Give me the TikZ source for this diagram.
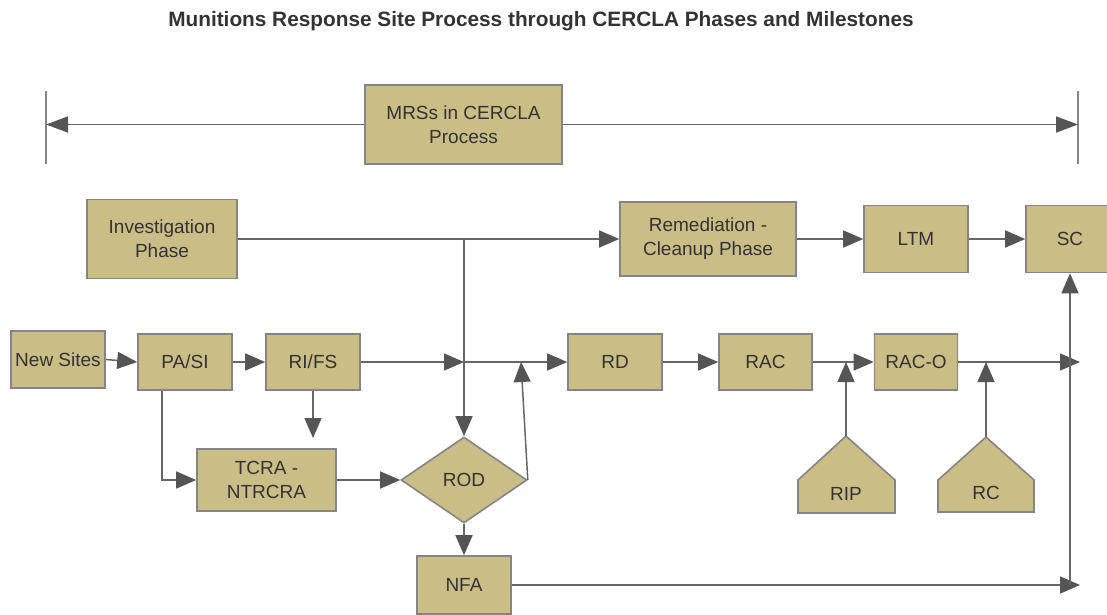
\documentclass[tikz,border=0pt]{standalone}
\usepackage{fontspec}
\setmainfont{Liberation Sans}
\usetikzlibrary{arrows.meta,shapes.geometric}

\definecolor{boxfill}{HTML}{CBBD86}
\definecolor{boxline}{HTML}{858585}
\definecolor{wire}{HTML}{666666}
\definecolor{tipcol}{HTML}{555555}
\definecolor{txt}{HTML}{333333}

\tikzset{
  stage/.style={draw=boxline, fill=boxfill, line width=1.6pt, inner sep=0pt,
    text=txt, align=center, font=\fontsize{19}{24}\selectfont},
  decision/.style={stage, diamond, minimum width=126pt, minimum height=86pt},
  house/.style={draw=boxline, fill=boxfill, line width=1.6pt, line join=miter},
  wireline/.style={draw=wire, line width=1.5pt},
  arr/.style={wireline, -{Triangle[length=20pt,width=17pt,fill=tipcol,color=tipcol]}},
  bararr/.style={wireline, -{Triangle[length=22pt,width=16pt,fill=tipcol,color=tipcol]}},
  tick/.style={draw=boxline, line width=1.6pt}
}

\begin{document}
\begin{tikzpicture}[x=1pt,y=-1pt]
\useasboundingbox (0,0) rectangle (1107,614);

% title
\node[text=txt, font=\bfseries\fontsize{20.8}{24}\selectfont] (title) at (541,21)
  {Munitions Response Site Process through CERCLA Phases and Milestones};

% overall process bar
\node[stage, minimum width=197pt, minimum height=79pt] (mrs) at (463.5,124.5) {MRSs in CERCLA\\Process};
\coordinate (barL) at (46,124.5);
\coordinate (barR) at (1078,124.5);
\coordinate (barLt) at (46,91);
\coordinate (barLb) at (46,164);
\coordinate (barRt) at (1078,91);
\coordinate (barRb) at (1078,164);
\draw[tick] (barLt) -- (barLb);
\draw[tick] (barRt) -- (barRb);
\draw[bararr] (mrs.west) -- (barL);
\draw[bararr] (mrs.east) -- (barR);

% phase row
\node[stage, minimum width=150pt, minimum height=79pt] (inv) at (162,239) {Investigation\\Phase};
\node[stage, minimum width=176pt, minimum height=74pt] (rem) at (708,239) {Remediation -\\Cleanup Phase};
\node[stage, minimum width=104pt, minimum height=67pt] (ltm) at (916,239) {LTM};
\node[stage, minimum width=88pt, minimum height=67pt] (sc) at (1070,239) {SC};

% milestone row
\node[stage, minimum width=94pt, minimum height=57pt] (new) at (58,359.5) {New Sites};
\node[stage, minimum width=94pt, minimum height=56pt] (pasi) at (185,362) {PA/SI};
\node[stage, minimum width=94pt, minimum height=56pt] (rifs) at (313,362) {RI/FS};
\node[stage, minimum width=94pt, minimum height=56pt] (rd) at (615,362) {RD};
\node[stage, minimum width=93pt, minimum height=56pt] (rac) at (765.5,362) {RAC};
\node[stage, minimum width=83pt, minimum height=56pt] (raco) at (916,362) {RAC-O};

\node[stage, minimum width=139pt, minimum height=62pt] (tcra) at (266.5,480) {TCRA -\\NTRCRA};
\node[decision] (rod) at (464,480) {ROD};
\node[stage, minimum width=94pt, minimum height=58pt] (nfa) at (464,585) {NFA};

% milestone markers
\draw[house] (798,513) -- (798,480) -- (846,436) -- (895,480) -- (895,513) -- cycle;
\node[text=txt, font=\fontsize{19}{24}\selectfont] (rip) at (846,494) {RIP};
\coordinate (riptop) at (846,436);
\draw[house] (938,512) -- (938,480) -- (986,437) -- (1034,480) -- (1034,512) -- cycle;
\node[text=txt, font=\fontsize{19}{24}\selectfont] (rc) at (986,493) {RC};
\coordinate (rctop) at (986,437);

% free ends and junctions
\coordinate (invjoin) at (464,239);
\coordinate (rifsjoin) at (464,362);
\coordinate (tcrahint) at (313,438);
\coordinate (rodup) at (521,362);
\coordinate (ripjoin) at (846,362);
\coordinate (rcjoin) at (986,362);
\coordinate (rowend) at (1080,362);
\coordinate (nfaend) at (1080,585);
\coordinate (nfacorner) at (1070,585);

% connectors
\draw[wireline] (inv.east) -- (invjoin);
\draw[arr] (invjoin) -- (rem.west);
\draw[arr] (invjoin) -- (rod.north);
\draw[arr] (rem.east) -- (ltm.west);
\draw[arr] (ltm.east) -- (sc.west);

\draw[arr] (new.east) -- (pasi.west);
\draw[arr] (pasi.east) -- (rifs.west);
\draw[arr] (rifs.east) -- (rifsjoin);
\draw[arr] (rifsjoin) -- (rd.west);
\draw[arr] (rifs.south) -- (tcrahint);
\draw[arr] ([xshift=-23pt]pasi.south) |- (tcra.west);
\draw[arr] (tcra.east) -- (rod.west);
\draw[arr] (rod.east) -- (rodup);
\draw[arr] (rod.south) -- (nfa.north);

\draw[arr] (rd.east) -- (rac.west);
\draw[arr] (rac.east) -- (raco.west);
\draw[arr] (riptop) -- (ripjoin);
\draw[arr] (raco.east) -- (rowend);
\draw[arr] (rctop) -- (rcjoin);

\draw[arr] (nfa.east) -- (nfaend);
\draw[arr] (nfacorner) -- (sc.south);
\end{tikzpicture}
\end{document}
